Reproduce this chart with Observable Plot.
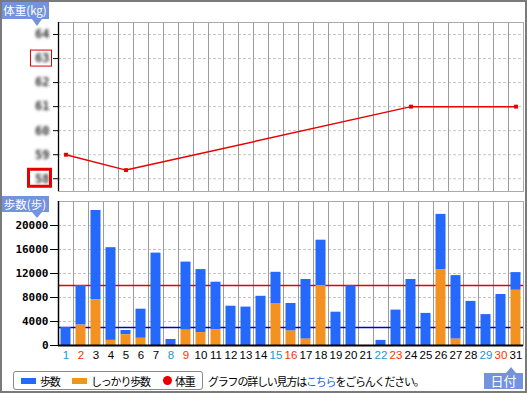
<!DOCTYPE html>
<html><head><meta charset="utf-8">
<script src="https://cdn.jsdelivr.net/npm/d3@7"></script>
<script src="https://cdn.jsdelivr.net/npm/@observablehq/plot@0.6"></script>
<style>
body{margin:0;background:#fff;}
#root{position:relative;width:527px;height:393px;overflow:hidden;font-family:"Noto Sans CJK JP",sans-serif;background:#fff;}
#border{position:absolute;left:0;top:0;width:527px;height:393px;box-sizing:border-box;border:2px solid #7a7a7a;pointer-events:none;z-index:5;}
.plot{position:absolute;left:0;}
.tag{position:absolute;background:#7393dc;color:#fff;font-size:11.5px;line-height:17px;text-align:center;white-space:nowrap;z-index:3;}
.tri-down{position:absolute;width:0;height:0;border-left:5px solid transparent;border-right:5px solid transparent;border-top:7px solid #7393dc;z-index:3;}
.tri-up{position:absolute;width:0;height:0;border-left:5px solid transparent;border-right:5px solid transparent;border-bottom:6px solid #7393dc;z-index:3;}
.legend{position:absolute;left:13px;top:371px;width:190px;height:19px;box-sizing:border-box;border:1px solid #888;border-radius:3px;background:#fff;}
.sw{position:absolute;}
.lt{position:absolute;font-size:11px;line-height:16px;letter-spacing:-1.2px;color:#000;white-space:nowrap;}
</style></head><body><div id="root"><div id="border"></div></div><script>
const days = [1,2,3,4,5,6,7,8,9,10,11,12,13,14,15,16,17,18,19,20,21,22,23,24,25,26,27,28,29,30,31];
const steps = [3000,10000,22500,16300,2500,6050,15400,1000,13900,12650,10550,6550,6400,8200,12200,7000,11000,17550,5550,9950,0,850,5900,11000,5350,21850,11650,7350,5150,8500,12150];
const firmSteps = [0,3400,7650,850,1800,1200,0,0,2550,2150,2650,0,0,0,7000,2400,1050,10000,0,0,0,0,0,0,0,12650,1050,0,0,0,9200];
const weightDays = [1,5,24,31];
const weights = [59.0,58.36,61.0,61.0];
const weightTicks = [58,59,60,61,62,63,64];
const highlightTicks = [63,58];
const stepTicks = [0,4000,8000,12000,16000,20000];
const stepGoal = 10000;
const firmGoal = 3000;
const saturdays = [1,8,15,22,29];
const holidays = [2,9,16,23,30];
const legendLabels = ["歩数","しっかり歩数","体重"];
const legendColors = ["#2468fc","#f39221","#e60000"];
const noteBefore = "グラフの詳しい見方は";
const noteLink = "こちら";
const noteAfter = "をごらんください。";

const bars = days.map((d,i)=>({day:d, steps:steps[i], firm:firmSteps[i]}));
const wRows = weightDays.map((d,i)=>({day:d, w:weights[i]}));
const bounds = days.slice(1).map(d=>d-0.5);
const dayColor = d => saturdays.includes(d) ? "#1797d4" : holidays.includes(d) ? "#ff3000" : "#000000";

const root = document.getElementById("root");

const topChart = Plot.plot({
  width:527, height:193, marginLeft:58, marginRight:4, marginTop:22, marginBottom:2,
  style:{background:"transparent", fontFamily:"DejaVu Sans Mono", fontSize:"11px", overflow:"visible"},
  x:{domain:[0.5,31.5], axis:null},
  y:{domain:[57.47,64.5], axis:null, label:null},
  marks:[
    Plot.ruleY(weightTicks,{stroke:"#c4c4c4", strokeDasharray:"3,2"}),
    Plot.ruleX(bounds,{stroke:"#9c9c9c"}),
    Plot.frame({stroke:"#aaaaaa"}),
    Plot.axisY({ticks:weightTicks, label:null, tickSize:5, tickPadding:4, stroke:"#000", fill:"#333", tickFormat:d=>String(d), fontSize:12, fontWeight:"bold"}),
    Plot.ruleX([0.5],{stroke:"#000", strokeWidth:1.3}),
    Plot.line(wRows,{x:"day", y:"w", stroke:"#e60000", strokeWidth:1.5}),
    Plot.dot(wRows,{x:"day", y:"w", symbol:"square", r:2.2, fill:"#e60000", stroke:null})
  ]
});
topChart.classList.add("plot");
topChart.style.top = "0px";
root.appendChild(topChart);

// the weight tick labels are pixelated in the original: blur them
const tsvg = d3.select(topChart);
tsvg.append("defs").append("filter").attr("id","pix")
  .append("feGaussianBlur").attr("stdDeviation",1.6);
tsvg.selectAll('g[aria-label="y-axis tick label"] text').attr("filter","url(#pix)");
const ty = topChart.scale("y");
highlightTicks.forEach((v,i)=>{
  const cy = ty.apply(v);
  const thick = i === 1;
  tsvg.append("rect")
    .attr("x", thick ? 28.5 : 30.5).attr("y", cy - (thick ? 9 : 8))
    .attr("width", thick ? 22 : 21).attr("height", thick ? 17 : 16)
    .attr("fill","none").attr("stroke","#e60000").attr("stroke-width", thick ? 3 : 1);
});

const bottomChart = Plot.plot({
  width:527, height:178, marginLeft:58, marginRight:4, marginTop:9, marginBottom:25,
  style:{background:"transparent", fontFamily:"Liberation Sans", fontSize:"11px", overflow:"visible"},
  x:{domain:[0.5,31.5], axis:null, label:null},
  y:{domain:[0,24000], axis:null, label:null},
  marks:[
    Plot.ruleY(stepTicks.filter(t=>t>0),{stroke:"#c4c4c4", strokeDasharray:"3,2"}),
    Plot.ruleX(bounds,{stroke:"#9c9c9c"}),
    Plot.frame({stroke:"#aaaaaa"}),
    Plot.ruleY([stepGoal],{stroke:"#e00000", strokeWidth:1.5}),
    Plot.ruleY([firmGoal],{stroke:"#0000c8", strokeWidth:1.5}),
    Plot.rect(bars,{x1:d=>d.day-1/3, x2:d=>d.day+1/3, y1:"firm", y2:"steps", fill:legendColors[0]}),
    Plot.rect(bars,{x1:d=>d.day-1/3, x2:d=>d.day+1/3, y1:()=>0, y2:"firm", fill:legendColors[1]}),
    Plot.axisY({ticks:stepTicks, label:null, tickSize:8, tickPadding:2, stroke:"#000", fill:"#000", tickFormat:d=>String(d), fontSize:11, fontWeight:"bold", fontFamily:"DejaVu Sans Mono"}),
    Plot.ruleX([0.5],{stroke:"#000", strokeWidth:1.5}),
    Plot.ruleY([0],{stroke:"#000", strokeWidth:2}),
    Plot.text(days,{x:d=>d, y:()=>0, dy:10, text:d=>String(d), fill:d=>dayColor(d), fontSize:11.5})
  ]
});
bottomChart.classList.add("plot");
bottomChart.style.top = "192px";
root.appendChild(bottomChart);

function el(cls, css, text){
  const e = document.createElement("div");
  e.className = cls;
  Object.assign(e.style, css);
  if (text != null) e.textContent = text;
  root.appendChild(e);
  return e;
}
// axis tags
el("tag",{left:"1px",top:"2px",width:"48px",height:"17px"},"体重(kg)");
el("tri-down",{left:"32px",top:"19px"});
el("tag",{left:"1px",top:"196px",width:"48px",height:"16px",lineHeight:"16px"},"歩数(歩)");
el("tri-down",{left:"32px",top:"212px",borderTopWidth:"6px"});
el("tag",{left:"484px",top:"373px",width:"39px",height:"16px",lineHeight:"16px",fontSize:"13px"},"日付");
el("tri-up",{left:"506px",top:"367px"});

// legend
el("legend",{});
el("sw",{left:"21px",top:"378px",width:"15px",height:"6px",background:legendColors[0]});
el("lt",{left:"40px",top:"373px"},legendLabels[0]);
el("sw",{left:"72px",top:"378px",width:"15px",height:"6px",background:legendColors[1]});
el("lt",{left:"91px",top:"373px"},legendLabels[1]);
el("sw",{left:"163px",top:"376px",width:"9px",height:"9px",borderRadius:"50%",background:legendColors[2]});
el("lt",{left:"175px",top:"373px"},legendLabels[2]);
const note = el("lt",{left:"208px",top:"373px"});
note.append(noteBefore);
const link = document.createElement("span");
link.style.color = "#2a5fd8";
link.textContent = noteLink;
note.append(link);
note.append(noteAfter);
</script></body></html>
